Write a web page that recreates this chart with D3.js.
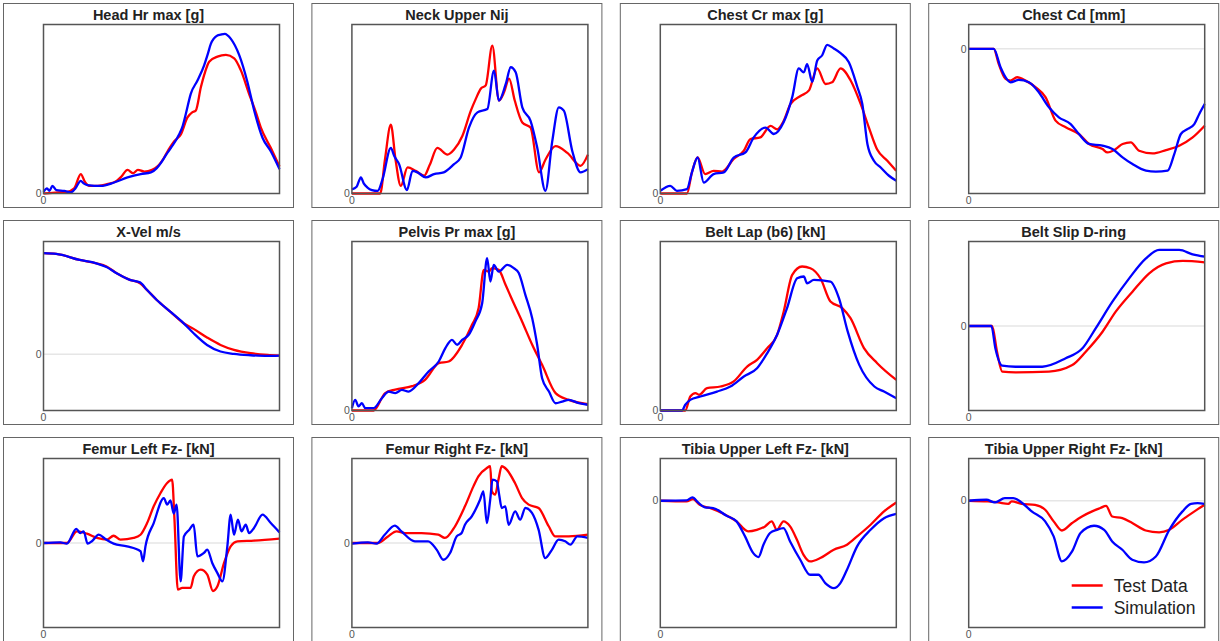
<!DOCTYPE html>
<meta charset="utf-8">
<style>
body { margin: 0; background: #fff; }
text { font-family: Arial, "Liberation Sans", sans-serif; }
.title { font-size: 14.5px; font-weight: bold; fill: #222; }
.zero { font-size: 10.5px; fill: #555; }
.legend { font-size: 17.5px; fill: #222; }
</style>
<svg width="1220" height="641"></svg>
<script src="https://cdn.jsdelivr.net/npm/d3@7"></script>
<script>

// titles of the twelve channels
const titles = [
  'Head Hr max [g]', 'Neck Upper Nij', 'Chest Cr max [g]', 'Chest Cd [mm]',
  'X-Vel m/s', 'Pelvis Pr max [g]', 'Belt Lap (b6) [kN]', 'Belt Slip D-ring',
  'Femur Left Fz- [kN]', 'Femur Right Fz- [kN]', 'Tibia Upper Left Fz- [kN]', 'Tibia Upper Right Fz- [kN]'
];

// y ranges (normalised units, time is 0..100 %)
const yRanges = [
  [0, 100], [0, 100], [0, 100], [-85.6, 14.4],
  [-33.3, 66.7], [0, 100], [0, 100], [-50, 50],
  [-50, 50], [-50, 50], [-75, 25], [-75, 25]
];

const headTest = [[0,0],[5,0.5],[10,1],[13,3],[15.8,11.5],[17.5,7],[19.4,4.5],[23,4.5],[27,5.5],[31,7.5],[33,10],[35.6,14],[38,12],[40,14],[42.7,13],[46,14],[48.3,16],[51,21],[53,26],[55.4,31],[58.2,35],[61,45],[63,48],[64.5,49],[66.7,63],[68.5,72],[70.2,78],[73.7,81],[77.3,82],[80.8,80],[83.6,73],[87.1,59],[90,48],[92.1,39],[96.3,27],[100,16]];
const headSim = [[0,1],[1.5,3],[2.5,1.5],[3.8,4.5],[5.5,2],[8.8,1.5],[11.6,0.6],[13.5,3],[15.8,7.5],[17,6],[18.6,5],[24.3,4.5],[29.9,6.5],[35.6,9.5],[41.2,11.5],[45.5,12.5],[48,15],[49.7,18],[52,23],[54,27],[57.5,35],[59,40],[60.3,47],[62.4,59],[65.3,67],[68.1,76],[69.5,82],[70.9,88.5],[73.7,93.5],[75,94],[76.8,94.5],[79.4,91.5],[82.9,82],[86.4,66],[89.3,49],[92.8,33],[96.3,25],[100,14.4]];

const neckTest = [[0,0],[12,0],[14,20],[16.5,40.7],[18.5,20],[20.7,4.5],[23.6,15.4],[27,13.4],[30.6,10.5],[33,17],[36.2,27],[40.5,23],[43.3,26],[46.8,34],[50.4,49],[52.5,56],[54.6,62],[56.7,64],[59.5,87.5],[62.3,55],[64.5,60],[66.6,68],[69,55],[72.2,42],[75.7,39],[79.3,12.5],[82,20],[86.3,28],[91.3,24],[96.9,16.4],[100,23]];
const neckSim = [[0,2.5],[2,4],[3.8,9.5],[5,6],[6.6,3.5],[8.5,2],[10.9,1.5],[13,8.5],[16.5,27],[18,22],[20,17.4],[23.3,2],[25.7,13.4],[27.8,12.5],[31.3,9.5],[34.8,11.5],[38.9,12.5],[43.3,17.4],[46.1,21.3],[49.6,39],[53.2,48],[57.4,50],[60.2,72.7],[62.3,55],[65.2,64.8],[67.3,74.7],[69.4,71.7],[72.2,51],[75.7,43],[78.5,27.3],[82,1.6],[84.9,31],[87.7,51],[89.8,49],[93.4,25],[96.9,12.5],[100,14.4]];

const crTest = [[0,0],[11.3,0],[13.4,12.5],[15.8,21.3],[19,11.5],[22.6,13.4],[26.2,13],[31.1,20.4],[35.4,25.3],[38.2,32.2],[42.4,33.2],[46.7,40],[49.5,38],[52.3,43],[55.2,53],[59.4,57.7],[63,61],[66.5,74],[70,64.8],[72.8,65.8],[76.4,74],[80.6,67],[84.9,53],[88.4,39],[91.9,26],[96.2,19.4],[100,13.4]];
const crSim = [[0,1.6],[4.2,4.5],[7,1.6],[11.3,2.6],[13.4,12.5],[15.8,21.3],[18.4,6.5],[22.6,11.5],[26.9,12.5],[31.1,21.3],[36.1,24.3],[39.6,33.2],[44.6,39],[48.1,35.2],[52.3,42.3],[55.9,57],[58.7,74],[60.8,71.7],[62.2,76.5],[64.4,66],[66.5,78.7],[68.6,81.8],[70.7,88],[73.5,85.8],[76.4,83],[79.9,77.7],[83.5,63],[85.6,53],[87.8,29],[90.5,19.4],[93.4,15.4],[96.9,10.5],[100,7.5]];

const cdTest = [[0,0],[10.6,0],[12.7,-8.9],[15.6,-17.8],[17.7,-18.8],[20.5,-16.8],[24.1,-18.8],[28.3,-22.7],[32.6,-28.7],[36.8,-42.5],[41.1,-46.4],[46.7,-50.4],[51,-56.3],[56.7,-59.3],[58.8,-61.3],[62.3,-59.3],[65.2,-56.3],[68.7,-55.3],[72.2,-60.3],[77.9,-61.9],[83.6,-59.9],[89.2,-57.3],[94.9,-52.4],[100,-45.5]];
const cdSim = [[0,0],[10.6,0],[13.5,-10.9],[15.6,-16.8],[17.7,-19.8],[21.2,-18.4],[25.5,-19.8],[29.7,-25.7],[34,-34.6],[38.2,-40.5],[43.2,-44.5],[46.7,-50.4],[51,-56.3],[56.7,-57.3],[60.9,-59.3],[65.2,-64.2],[69.4,-68.2],[75.1,-72.1],[79.3,-72.7],[84.3,-72.1],[87.1,-62.3],[89.9,-50.4],[92.8,-47.4],[95.6,-44.5],[97.7,-38.5],[100,-32.6]];

const velTest = [[0,59.8],[5.4,59.4],[15.3,55.8],[22.4,53.8],[26.7,51.9],[31,47.9],[36.6,44],[40.9,42],[43.8,38.1],[48,32.1],[53.7,25.2],[59.4,18.3],[63.6,15],[69.3,9.9],[75,5.5],[80.7,2.6],[87.8,0.6],[94.9,-0.4],[100,-0.8]];
const velSim = [[0,59.8],[5.4,59.4],[15.3,55.8],[22.4,53.8],[26.7,51.6],[31,47.9],[36.6,44],[40.9,42.5],[43.8,38.1],[48,32.1],[53.7,25.2],[59.4,18.3],[63.6,12.4],[69.3,5.5],[75,1.6],[80.7,0.2],[87.8,-0.6],[94.9,-1],[100,-0.8]];

const pelvisTest = [[0,0],[9.2,0],[14.1,10.3],[18.4,12.4],[25.5,14.4],[31.1,18.3],[36.8,28],[41,29],[46.7,38.9],[50.9,50.7],[53.7,60.6],[55.9,83.2],[58,82.2],[59.4,84.2],[62.2,83.2],[65.1,74.4],[67.9,65.5],[72.1,52.7],[76.4,38.9],[80.6,27],[86.3,10.3],[91.9,6.3],[100,3.7]];
const pelvisSim = [[0,1.4],[1.4,6.3],[2.8,2.4],[4.2,4.3],[5.7,1.4],[9.2,1.4],[12.7,7.3],[15.6,11.2],[18.4,10.3],[21.2,12.2],[24,11.2],[28.3,16.2],[32.5,23.1],[36.8,29],[39.6,36.9],[42.4,41.8],[44.6,38.9],[46.7,41.8],[49.5,44.8],[52.3,52.7],[55.2,63.5],[57.3,90.1],[58.7,76.3],[60.1,86.2],[62.2,82.2],[65.8,86.2],[68.6,84.2],[70.7,81.3],[73.5,68.4],[76.4,54.6],[78.5,38.9],[80.6,19.1],[83.5,11.2],[86.3,4.3],[89.1,5.3],[91.9,6.3],[96.2,4.3],[100,3.4]];

const lapTest = [[0,0],[10.6,0],[12.7,8.3],[14.9,10.3],[16.4,9.3],[19.8,13.2],[25.5,14.2],[31.1,17.2],[36.8,26],[41,30],[45.3,36.9],[49.5,44.8],[52.3,58.6],[55.9,80.3],[60.1,85.2],[63.6,84.2],[67.9,78.1],[72.1,64.5],[77.1,60.6],[80.6,54.6],[86.3,36.9],[91.9,28],[100,18.1]];
const lapSim = [[0,0],[9.2,0],[10.6,3.4],[12.7,6.3],[17,8.3],[24,11.2],[29.7,14.2],[35.4,20.1],[41,25],[45.3,33.9],[49.5,44.8],[53.7,60.6],[58,78.3],[60.8,79.3],[62.2,75.3],[65.1,77.3],[72.1,76.3],[75.7,66.5],[79.3,47.3],[84.3,27],[90.7,14.2],[94.8,11.2],[100,7.3]];

const slipTest = [[0,0],[9.9,0],[12,-15.2],[14.2,-27],[19.8,-27.4],[34,-27],[43.9,-23.1],[49.6,-15.2],[56.7,-3.4],[62.3,8.5],[69.4,20.3],[76.5,31.2],[83.6,37.1],[90.7,38.5],[100,37.7]];
const slipSim = [[0,0],[9.6,0],[11.3,-13.2],[14.2,-23.5],[19.8,-24.1],[31.2,-24.1],[41.1,-19.1],[48.2,-13.2],[53.8,-1.4],[60.9,14.4],[68,28.2],[75.1,40],[80.7,45],[89.2,45],[94.9,42.4],[100,41]];

const femurLTest = [[0,0],[9.9,0],[14.2,6.9],[18.4,5.5],[22.7,3],[26.9,2],[29.7,4.3],[32.6,2],[38.2,3],[41.1,4.9],[43.9,11.8],[46.7,21.7],[49.6,29.6],[52.4,35.5],[54.5,37.5],[55.5,13.8],[56.9,-27.6],[58.8,-26.6],[62.3,-26.6],[63.7,-19.7],[66.6,-15.8],[69.4,-18.7],[71.8,-28.4],[73.7,-25.6],[76.5,-11.8],[79.3,-2],[82.2,1],[89.2,1.4],[100,2.6]];
const femurLSim = [[0,0],[7.1,0.4],[9.9,-0.4],[13.9,8.3],[15.6,5.9],[17,6.9],[18.7,-0.4],[20.5,1],[23.4,4.9],[26.2,2.4],[29.7,-0.4],[35.4,-2],[41.1,-4.9],[42.2,-10.8],[43.2,-2],[46.7,11.8],[51,26.6],[52.4,22.7],[53.8,25.2],[55.2,17.4],[56.4,22.7],[58.1,-22.7],[59.5,3.9],[61.8,7.9],[63.6,10.8],[65.2,-7.9],[68,-5.9],[69.4,-3.9],[71.5,-11.8],[73.7,-17.8],[75.8,-22.7],[77.9,-2],[79.3,16.8],[80.7,4.9],[82.4,13.8],[83.9,6.9],[85.7,10.8],[87.1,5.9],[89.2,8.9],[92.8,16.8],[96.3,11.8],[100,6.3]];

const femurRTest = [[0,0],[11.1,0],[15.3,3.9],[18.9,6.9],[22.4,5.9],[29.5,5.9],[36.6,4.9],[39.4,3],[43.7,9.9],[47.9,21.7],[51.5,33.5],[53.6,39.4],[57.2,44.4],[58.6,45.4],[59.3,30.6],[60.7,28.6],[62.1,37.5],[63.5,45.4],[65.6,43.4],[69.1,35.5],[72.1,26.6],[74.9,22.7],[79.1,20.7],[83.4,9.9],[86.2,3.9],[91.9,3.9],[100,4.9]];
const femurRSim = [[0,-0.4],[6.8,0.4],[10.4,-0.4],[13.9,4.9],[18.2,10.3],[21,6.9],[26.7,1],[32.3,1],[35.9,-3.9],[38.7,-9.9],[41.6,-5.9],[44.4,3.9],[46.5,5.9],[47.9,10.8],[50.8,15.8],[54.3,25.6],[55.7,30.6],[57.2,11.8],[58.6,25.6],[59.6,37.5],[61.4,36.5],[62.4,28.6],[63.5,20.7],[65,21.7],[66.4,10.8],[69.2,18.7],[71.3,13.8],[73.5,20.7],[76.3,17.8],[79.1,7.9],[81.9,-8.9],[84.8,-3.9],[87.6,2],[90.4,1],[92.6,-1],[95.5,3.9],[100,3]];

const tibiaLTest = [[0,0],[11.1,-0.4],[13.9,1],[16.7,-2.4],[21,-4.3],[26.7,-7.7],[32.3,-12.2],[37.2,-18.1],[40.9,-17.2],[44.4,-15.2],[47.2,-12.2],[49.4,-17.2],[52.2,-12.2],[55,-15.2],[57.9,-23.1],[60.7,-32],[63.5,-35.9],[67.8,-33.9],[73.5,-29],[79.1,-26],[83.4,-21.1],[89.1,-14.2],[94.8,-6.3],[100,-1]];
const tibiaLSim = [[0,0],[11.1,0.2],[13.6,2],[16,-1],[18.9,-3.9],[22.4,-4.3],[28.1,-8.9],[32.3,-12.2],[35.9,-21.1],[39.4,-31],[41.6,-33.3],[43.7,-26],[46.5,-19.1],[49.4,-17.2],[52.2,-16.2],[55,-24.1],[59.3,-34.9],[63.5,-43.8],[67,-43.8],[69.9,-48.7],[73.5,-51.7],[76.3,-48.7],[79.1,-40.8],[83.4,-27],[89.1,-17.2],[94.8,-10.3],[100,-7.7]];

const tibiaRTest = [[0,0],[8.2,-0.4],[12.5,-1],[16.8,-1.8],[18.2,-0.4],[22.4,-1.8],[28.1,-2.4],[32.4,-5.3],[36,-12.2],[39.5,-17.6],[43.8,-13.2],[48,-9.3],[52.3,-6.3],[55.8,-4.3],[58.2,-3],[60.8,-9.3],[65.1,-10.3],[69.3,-13.2],[75,-17.6],[80.7,-18.7],[85,-17.2],[90.6,-11.2],[96.3,-5.7],[100,-2.4]];
const tibiaRSim = [[0,0],[7.5,0.6],[11.1,-1],[15.3,1.6],[18.9,1.6],[22.4,-1],[26.7,-6.3],[32.4,-12.2],[36,-21.1],[39.5,-35.9],[43.8,-30],[47.4,-19.1],[53.1,-14.8],[57.4,-17.2],[60.8,-24.1],[65.1,-29],[69.3,-34.9],[74.3,-36.5],[79.3,-33],[85,-17.2],[90.6,-6.3],[94.2,-1.8],[97,-1.4],[100,-1.8]];

const testSeries = [headTest, neckTest, crTest, cdTest, velTest, pelvisTest, lapTest, slipTest, femurLTest, femurRTest, tibiaLTest, tibiaRTest];
const simSeries = [headSim, neckSim, crSim, cdSim, velSim, pelvisSim, lapSim, slipSim, femurLSim, femurRSim, tibiaLSim, tibiaRSim];

const legendLabels = ['Test Data', 'Simulation'];
const colors = ['#ff0000', '#0000ff'];

const svg = d3.select('svg');

// panel geometry
const colStep = 308.4, rowStep = 217;
const outerW = 290, outerH = 204;
const plotLeft = 40, plotTop = 21, plotW = 236, plotH = 169;

titles.forEach((title, i) => {
  const col = i % 4, row = Math.floor(i / 4);
  const g = svg.append('g')
      .attr('transform', 'translate(' + (3.5 + col * colStep) + ',' + (3.5 + row * rowStep) + ')');

  g.append('rect')
      .attr('width', outerW).attr('height', outerH)
      .attr('fill', 'none').attr('stroke', '#666').attr('stroke-width', 1);

  g.append('text')
      .attr('class', 'title')
      .attr('x', outerW / 2).attr('y', 16.5)
      .attr('text-anchor', 'middle')
      .text(title);

  const x = d3.scaleLinear().domain([0, 100]).range([plotLeft, plotLeft + plotW]);
  const y = d3.scaleLinear().domain(yRanges[i]).range([plotTop + plotH, plotTop]);

  // zero reference line
  if (yRanges[i][0] < 0) {
    g.append('line')
        .attr('x1', x(0)).attr('x2', x(100))
        .attr('y1', y(0)).attr('y2', y(0))
        .attr('stroke', '#e6e6e6').attr('stroke-width', 1.5);
  }

  const line = d3.line()
      .x(d => x(d[0]))
      .y(d => y(d[1]))
      .curve(d3.curveMonotoneX);

  [testSeries[i], simSeries[i]].forEach((data, k) => {
    g.append('path')
        .datum(data)
        .attr('fill', 'none')
        .attr('stroke', colors[k])
        .attr('stroke-width', 2.3)
        .attr('stroke-linejoin', 'round')
        .attr('d', line);
  });

  g.append('rect')
      .attr('x', plotLeft).attr('y', plotTop)
      .attr('width', plotW).attr('height', plotH)
      .attr('fill', 'none').attr('stroke', '#555').attr('stroke-width', 1.5);

  g.append('text')
      .attr('class', 'zero')
      .attr('x', plotLeft - 2).attr('y', y(0))
      .attr('dy', '0.35em')
      .attr('text-anchor', 'end')
      .text('0');

  g.append('text')
      .attr('class', 'zero')
      .attr('x', plotLeft).attr('y', plotTop + plotH + 10.5)
      .attr('text-anchor', 'middle')
      .text('0');

  // legend in the last panel
  if (i === titles.length - 1) {
    legendLabels.forEach((label, k) => {
      const ly = 148 + k * 22;
      g.append('line')
          .attr('x1', 143).attr('x2', 174)
          .attr('y1', ly).attr('y2', ly)
          .attr('stroke', colors[k]).attr('stroke-width', 2.5);
      g.append('text')
          .attr('class', 'legend')
          .attr('x', 185).attr('y', ly)
          .attr('dy', '0.35em')
          .text(label);
    });
  }
});

</script>
